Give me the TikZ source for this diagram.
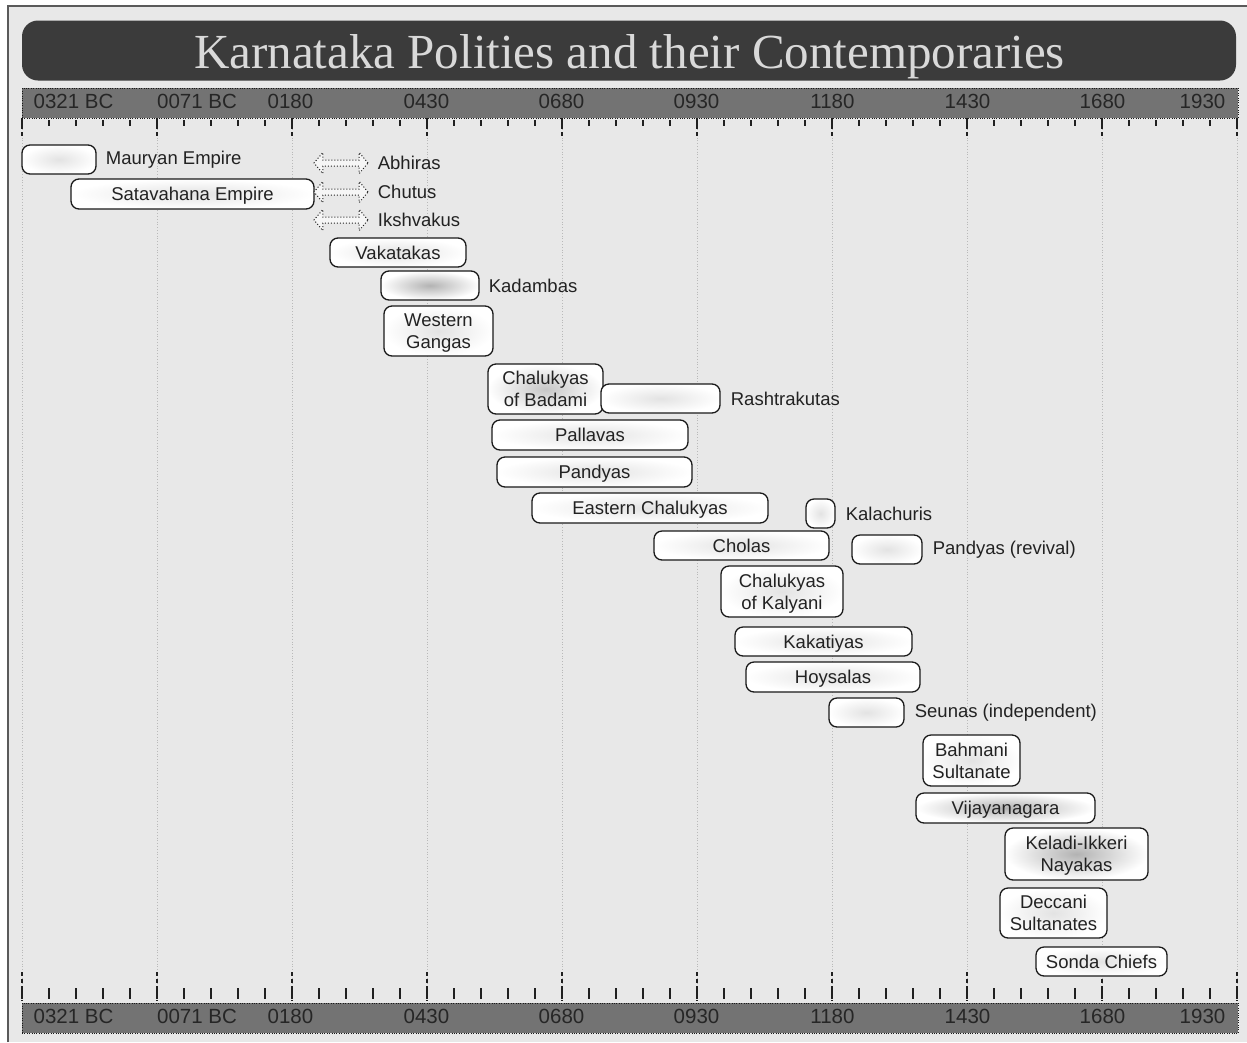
\documentclass[tikz,border=0pt]{standalone}
\usepackage{fontspec}
\setmainfont{Liberation Sans}
\newfontfamily\titlefont{Liberation Serif}
\usetikzlibrary{positioning,shapes.arrows}
\definecolor{paper}{HTML}{E8E8E8}
\definecolor{framegray}{HTML}{5A5A5A}
\definecolor{titlegray}{HTML}{3B3B3B}
\definecolor{titleink}{HTML}{D9D9D9}
\definecolor{axisgray}{HTML}{737373}
\definecolor{axisink}{HTML}{262626}
\definecolor{barline}{HTML}{1A1A1A}
\definecolor{ink}{HTML}{222222}

\begin{document}
\begin{tikzpicture}[x=1pt,y=-1pt,
	bar/.style={draw=barline,line width=1.3pt,rounded corners=8pt,shade,inner color=gray!22,outer color=white,inner sep=0pt,text=ink,align=center,text depth=0pt,font=\fontsize{18.5}{22}\selectfont},
	dark bar/.style={bar,inner color=gray!60},
	name label/.style={inner sep=0pt,text=ink,font=\fontsize{18.5}{22}\selectfont},
	span arrow/.style={double arrow,draw=gray!25!black,dotted,line width=1pt,fill=white!60!paper,inner xsep=0pt,inner ysep=2.5pt,double arrow head extend=7.5pt,double arrow tip angle=100,minimum height=54pt},
	axis bar/.style={fill=axisgray,draw=gray!20!black,dotted,minimum width=1216pt,minimum height=30pt,inner sep=0pt},
	axis label/.style={inner sep=0pt,text=axisink,font=\fontsize{20.5}{24}\selectfont},
	minor tick/.style={draw=gray!25!black,line width=1.1pt},
	major tick/.style={draw=gray!25!black,line width=1.1pt,dash pattern=on 4pt off 3pt},
	grid line/.style={draw=gray!55,dotted,line width=0.8pt}]
	\useasboundingbox (0,0) rectangle (1247,1042);
	\fill[white] (0,0) rectangle (1247,1042);
	\fill[paper] (8,6) rectangle (1247,1042);
	\draw[framegray,line width=1.6pt] (8,1042) -- (8,6) -- (1247,6);

	\node[fill=titlegray,rounded corners=16pt,minimum width=1214pt,minimum height=60pt,inner sep=0pt] (titlebar) at (629,50.5) {};
	\node[anchor=base,inner sep=0pt,text=titleink,font=\titlefont\fontsize{49}{58}\selectfont] (title) at (629.5,68) {Karnataka Polities and their Contemporaries};

	\foreach \i in {0,...,9}
		\draw[grid line] (22+135*\i,118) -- (22+135*\i,1000);
	\foreach \i in {0,...,45} {
		\draw[minor tick] (22+27*\i,120) -- (22+27*\i,126);
		\draw[minor tick] (22+27*\i,988) -- (22+27*\i,999);
	}
	\foreach \i in {0,...,9} {
		\draw[major tick] (22+135*\i,118) -- (22+135*\i,137);
		\draw[major tick] (22+135*\i,972) -- (22+135*\i,1001);
	}

	\node[axis bar] (topaxis) at (630,103) {};
	\node[axis bar] (bottomaxis) at (630,1018) {};
	\foreach \x/\t [count=\i] in {73.5/0321 BC,197/0071 BC,290.5/0180,426.5/0430,561.5/0680,696.5/0930,832.5/1180,967.5/1430,1102.5/1680,1202.5/1930} {
		\node[axis label] (top\i) at (\x,101) {\t};
		\node[axis label] (bottom\i) at (\x,1016) {\t};
	}

	\node[bar,minimum width=74pt,minimum height=29pt] (maurya) at (59,159.5) {};
	\node[name label,right=9pt of maurya] (maurya label) {Mauryan Empire};
	\node[bar,minimum width=243pt,minimum height=30pt] (satavahana) at (192.5,194) {Satavahana Empire};

	\node[span arrow] (abhira) at (341,163) {};
	\node[name label,right=9pt of abhira] (abhira label) {Abhiras};
	\node[span arrow] (chutu) at (341,192) {};
	\node[name label,right=9pt of chutu] (chutu label) {Chutus};
	\node[span arrow] (ikshvaku) at (341,220) {};
	\node[name label,right=9pt of ikshvaku] (ikshvaku label) {Ikshvakus};

	\node[bar,minimum width=136pt,minimum height=29pt] (vakataka) at (398,252.5) {Vakatakas};
	\node[dark bar,minimum width=98pt,minimum height=29pt] (kadamba) at (430,285.5) {};
	\node[name label,right=9pt of kadamba] (kadamba label) {Kadambas};
	\node[bar,minimum width=109pt,minimum height=50pt] (ganga) at (438.5,331) {Western\\Gangas};
	\node[bar,inner color=gray!45,minimum width=115pt,minimum height=50pt] (badami) at (545.5,389) {Chalukyas\\of Badami};
	\node[bar,minimum width=119pt,minimum height=29pt] (rashtrakuta) at (660.5,398.5) {};
	\node[name label,right=10pt of rashtrakuta] (rashtrakuta label) {Rashtrakutas};
	\node[bar,minimum width=196pt,minimum height=30pt] (pallava) at (590,435) {Pallavas};
	\node[bar,minimum width=195pt,minimum height=30pt] (pandya) at (594.5,472) {Pandyas};
	\node[bar,minimum width=236pt,minimum height=30pt] (eastchalukya) at (650,508) {Eastern Chalukyas};
	\node[bar,minimum width=29pt,minimum height=29pt] (kalachuri) at (820.5,513.5) {};
	\node[name label,right=10pt of kalachuri] (kalachuri label) {Kalachuris};
	\node[bar,minimum width=175pt,minimum height=29pt] (chola) at (741.5,545.5) {Cholas};
	\node[bar,minimum width=70pt,minimum height=29pt] (pandyarevival) at (887,549.5) {};
	\node[name label,right=10pt of pandyarevival] (pandyarevival label) {Pandyas (revival)};
	\node[bar,minimum width=122pt,minimum height=51pt] (kalyani) at (782,591.5) {Chalukyas\\of Kalyani};
	\node[bar,minimum width=177pt,minimum height=29pt] (kakatiya) at (823.5,641.5) {Kakatiyas};
	\node[bar,minimum width=174pt,minimum height=30pt] (hoysala) at (833,677) {Hoysalas};
	\node[bar,minimum width=75pt,minimum height=29pt] (seuna) at (866.5,712.5) {};
	\node[name label,right=10pt of seuna] (seuna label) {Seunas (independent)};
	\node[bar,minimum width=97pt,minimum height=51pt] (bahmani) at (971.5,760.5) {Bahmani\\Sultanate};
	\node[dark bar,minimum width=179pt,minimum height=30pt] (vijayanagara) at (1005.5,808) {Vijayanagara};
	\node[dark bar,minimum width=143pt,minimum height=52pt] (keladi) at (1076.5,854) {Keladi-Ikkeri\\Nayakas};
	\node[bar,minimum width=107pt,minimum height=50pt] (deccani) at (1053.5,913) {Deccani\\Sultanates};
	\node[bar,minimum width=131pt,minimum height=29pt] (sonda) at (1101.5,961.5) {Sonda Chiefs};
\end{tikzpicture}
\end{document}
